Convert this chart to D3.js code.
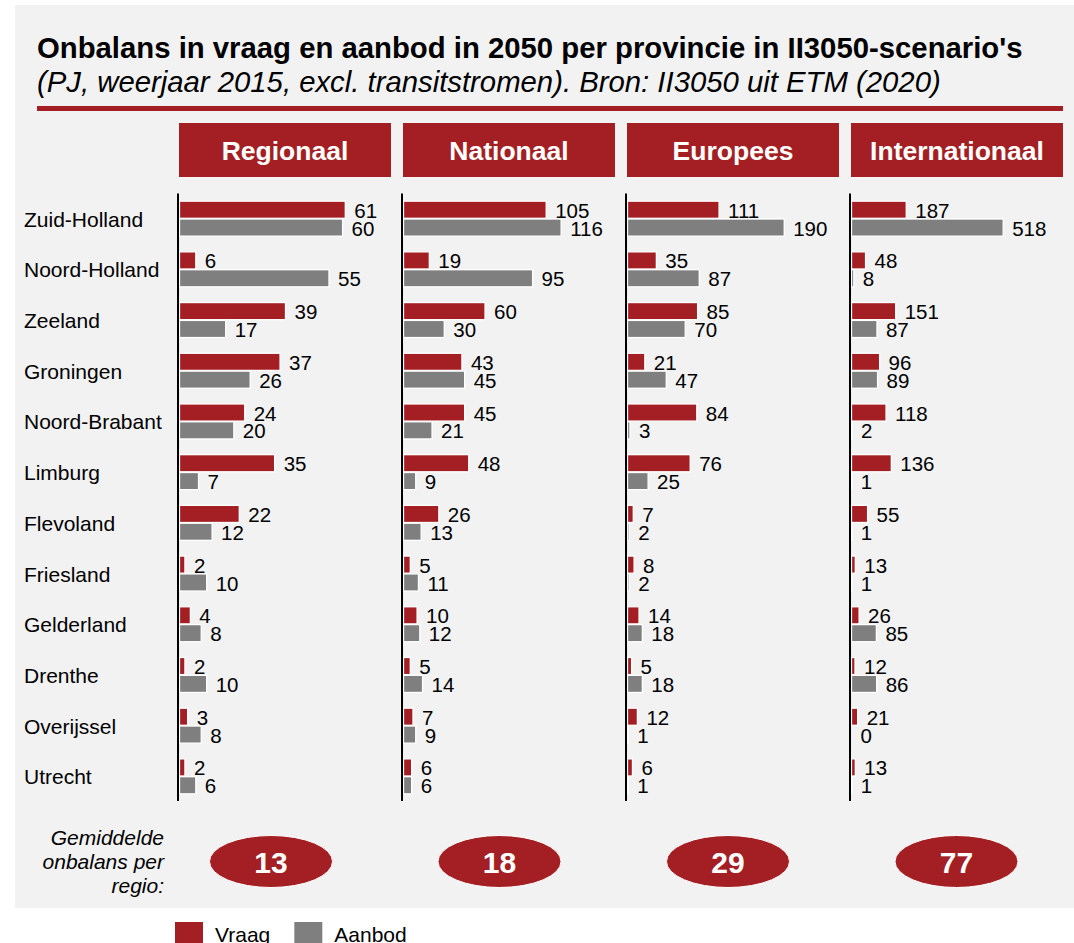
<!DOCTYPE html>
<html>
<head>
<meta charset="utf-8">
<script src="https://cdn.jsdelivr.net/npm/d3@7/dist/d3.min.js"></script>
<style>
  body { margin: 0; background: #fff; }
  svg text { font-family: "Liberation Sans", Arial, sans-serif; }
</style>
</head>
<body>
<script>
// data (PJ)
var provinces = ['Zuid-Holland', 'Noord-Holland', 'Zeeland', 'Groningen', 'Noord-Brabant', 'Limburg',
  'Flevoland', 'Friesland', 'Gelderland', 'Drenthe', 'Overijssel', 'Utrecht']
var scenarios = ['Regionaal', 'Nationaal', 'Europees', 'Internationaal']
var series = ['Vraag', 'Aanbod']

var vraag_regionaal = [61, 6, 39, 37, 24, 35, 22, 2, 4, 2, 3, 2]
var aanbod_regionaal = [60, 55, 17, 26, 20, 7, 12, 10, 8, 10, 8, 6]
var vraag_nationaal = [105, 19, 60, 43, 45, 48, 26, 5, 10, 5, 7, 6]
var aanbod_nationaal = [116, 95, 30, 45, 21, 9, 13, 11, 12, 14, 9, 6]
var vraag_europees = [111, 35, 85, 21, 84, 76, 7, 8, 14, 5, 12, 6]
var aanbod_europees = [190, 87, 70, 47, 3, 25, 2, 2, 18, 18, 1, 1]
var vraag_internationaal = [187, 48, 151, 96, 118, 136, 55, 13, 26, 12, 21, 13]
var aanbod_internationaal = [518, 8, 87, 89, 2, 1, 1, 1, 85, 86, 0, 1]

var gemiddelde = [13, 18, 29, 77]
// each panel has its own value axis (max of the axis, not drawn)
var axis_max = [78, 156, 257, 724]

var RED = '#a31f23'
var GREY = '#7f7f7f'

var panels = scenarios.map(function (s, i) {
  var v = [vraag_regionaal, vraag_nationaal, vraag_europees, vraag_internationaal][i]
  var a = [aanbod_regionaal, aanbod_nationaal, aanbod_europees, aanbod_internationaal][i]
  return {
    name: s,
    avg: gemiddelde[i],
    max: axis_max[i],
    rows: provinces.map(function (p, j) { return { prov: p, Vraag: v[j], Aanbod: a[j] } })
  }
})

var W = 1074
var H = 943
var svg = d3.select('body').append('svg').attr('width', W).attr('height', H)

// grey card
svg.append('rect').attr('x', 15).attr('y', 5).attr('width', W - 15).attr('height', 903).attr('fill', '#f2f2f2')

// titles
svg.append('text').attr('x', 37).attr('y', 57.5)
  .style('font-size', '29.3px').style('font-weight', 'bold').attr('fill', '#000')
  .text("Onbalans in vraag en aanbod in 2050 per provincie in II3050-scenario's")
svg.append('text').attr('x', 37).attr('y', 91.5)
  .style('font-size', '29.3px').style('font-style', 'italic').attr('fill', '#000')
  .text('(PJ, weerjaar 2015, excl. transitstromen). Bron: II3050 uit ETM (2020)')
svg.append('rect').attr('x', 37).attr('y', 106).attr('width', 1026).attr('height', 5).attr('fill', RED)

// scales
var panel_x = d3.scaleBand().domain(scenarios).range([179, 1063]).paddingInner(12 / 224).paddingOuter(0)
var y = d3.scaleBand().domain(provinces).range([193.3, 801.7]).paddingInner(0.31).paddingOuter(0.155)
var y_inner = d3.scaleBand().domain(series).range([0, y.bandwidth()]).paddingInner(0.04)
var color = d3.scaleOrdinal().domain(series).range([RED, GREY])

// province labels
svg.append('g').selectAll('text').data(provinces).join('text')
  .attr('x', 24)
  .attr('y', function (d) { return y(d) + y.bandwidth() / 2 + 8 })
  .style('font-size', '21px').attr('fill', '#000')
  .text(function (d) { return d })

panels.forEach(function (p, i) {
  var x0 = panel_x(p.name)
  var bw = panel_x.bandwidth()
  var x = d3.scaleLinear().domain([0, p.max]).range([x0 + 0.5, x0 + 0.5 + bw])
  var g = svg.append('g')

  // header box
  g.append('rect').attr('x', x0).attr('y', 123).attr('width', bw).attr('height', 54).attr('fill', RED)
  g.append('text').attr('x', x0 + bw / 2).attr('y', 159.5).attr('text-anchor', 'middle')
    .style('font-size', '26.5px').style('font-weight', 'bold').attr('fill', '#fff')
    .text(p.name)

  // bars
  var rows = g.selectAll('g.row').data(p.rows).join('g').attr('class', 'row')
    .attr('transform', function (d) { return 'translate(0,' + y(d.prov) + ')' })
  series.forEach(function (s) {
    rows.append('rect')
      .attr('x', x(0))
      .attr('y', y_inner(s))
      .attr('width', function (d) { return Math.max(0, x(d[s]) - x(0)) })
      .attr('height', y_inner.bandwidth())
      .attr('fill', color(s))
      .attr('stroke', '#fff').attr('stroke-width', 1.3)
    rows.append('text')
      .attr('x', function (d) { return x(d[s]) + 9 })
      .attr('y', y_inner(s) + y_inner.bandwidth() - 0.5)
      .style('font-size', '20.5px').attr('fill', '#000')
      .text(function (d) { return d[s] })
  })

  // axis line (value axis at zero)
  g.append('line').attr('x1', x0 - 1).attr('x2', x0 - 1).attr('y1', 193.5).attr('y2', 801)
    .attr('stroke', '#000').attr('stroke-width', 2)

  // average bubble
  var cx = 271 + i * 228.5
  g.append('ellipse').attr('cx', cx).attr('cy', 861.5).attr('rx', 61.5).attr('ry', 26)
    .attr('fill', RED).attr('stroke', '#fff').attr('stroke-width', 1)
  g.append('text').attr('x', cx).attr('y', 873).attr('text-anchor', 'middle')
    .style('font-size', '30px').style('font-weight', 'bold').attr('fill', '#fff')
    .text(p.avg)
})

// "Gemiddelde onbalans per regio:"
var note = ['Gemiddelde', 'onbalans per', 'regio:']
svg.append('g').selectAll('text').data(note).join('text')
  .attr('x', 164).attr('y', function (d, i) { return 845 + i * 24 })
  .attr('text-anchor', 'end')
  .style('font-size', '21px').style('font-style', 'italic').attr('fill', '#000')
  .text(function (d) { return d })

// legend
var legend = svg.append('g').selectAll('g').data(series).join('g')
  .attr('transform', function (d, i) { return 'translate(' + (175 + i * 119.3) + ',922)' })
legend.append('rect').attr('width', 28).attr('height', 22).attr('fill', function (d) { return color(d) })
legend.append('text').attr('x', 40).attr('y', 19.5)
  .style('font-size', '21px').attr('fill', '#000')
  .text(function (d) { return d })
</script>
</body>
</html>
